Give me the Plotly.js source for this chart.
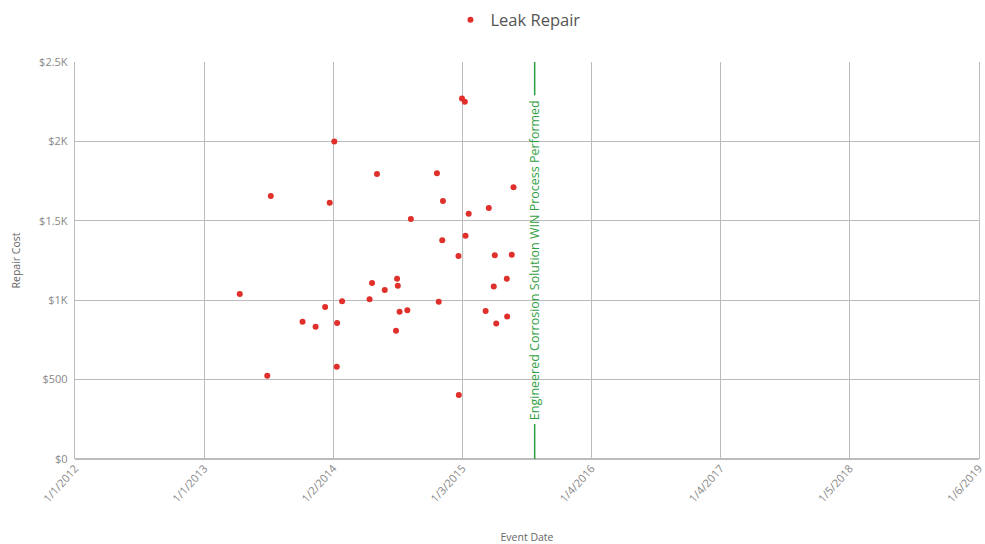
<!DOCTYPE html>
<html>
<head>
<meta charset="utf-8">
<script src="https://cdn.plot.ly/plotly-3.0.1.min.js"></script>
<style>html,body{margin:0;padding:0;background:#fff;}#chart{width:985px;height:544px;}</style>
</head>
<body>
<div id="chart"></div>
<script>
var eventDates = [
  "2015-01-02","2015-01-10","2014-01-05","2014-05-06","2014-10-23","2015-05-28",
  "2013-07-09","2013-12-23","2014-11-09","2015-03-19","2015-01-21","2014-08-10",
  "2014-11-07","2015-01-12","2014-12-23","2015-04-05","2015-05-23","2014-07-02",
  "2015-05-09","2014-04-22","2014-07-04","2015-04-02","2014-05-28","2013-04-12",
  "2014-01-27","2014-04-15","2014-10-28","2013-12-10","2014-07-09","2014-07-31",
  "2015-03-10","2015-05-10","2013-10-07","2013-11-13","2014-01-13","2015-04-09",
  "2014-06-29","2014-01-12","2013-06-29","2014-12-24"
];
var repairCosts = [
  2270,2250,2000,1795,1800,1711,
  1656,1614,1625,1581,1545,1511,
  1377,1406,1278,1283,1286,1135,
  1135,1108,1091,1087,1064,1039,
  993,1006,991,957,928,936,
  932,898,865,833,856,854,
  808,581,525,403
];
var seriesName = "Leak Repair";
var xTickVals = ["2012-01-01","2013-01-01","2014-01-02","2015-01-03","2016-01-04","2017-01-04","2018-01-05","2019-01-06"];
var xTickText = ["1/1/2012","1/1/2013","1/2/2014","1/3/2015","1/4/2016","1/4/2017","1/5/2018","1/6/2019"];
var yTickVals = [0,500,1000,1500,2000,2500];
var yTickText = ["$0","$500","$1K","$1.5K","$2K","$2.5K"];
var eventLineDate = ["2015-07-27"];
var eventLineText = ["Engineered Corrosion Solution WIN Process Performed"];

var green = "#2f9e3f";
var gridCol = "#bcbcbc";
var fontFam = "Open Sans, Noto Sans, sans-serif";

var trace = {
  type: "scatter",
  mode: "markers",
  x: eventDates,
  y: repairCosts,
  name: seriesName,
  marker: {color: "#e0302b", size: 6},
  showlegend: true
};

var layout = {
  width: 985, height: 544,
  margin: {l: 75, r: 6, t: 62, b: 85, autoexpand: false},
  paper_bgcolor: "#fff", plot_bgcolor: "#fff",
  font: {family: fontFam, color: "#777", size: 11},
  showlegend: true,
  legend: {orientation: "h", x: 0.49, xanchor: "center", y: 1.106, yanchor: "middle",
           font: {size: 16.5, color: "#555"}},
  xaxis: {
    type: "date",
    range: ["2012-01-01", "2019-01-06 12:00"],
    tickmode: "array", tickvals: xTickVals, ticktext: xTickText,
    tickangle: -48,
    ticklabeloverflow: "allow",
    tickfont: {size: 11, color: "#888"},
    showgrid: true, gridcolor: gridCol, gridwidth: 1.2,
    showline: false, zeroline: false,
    title: {text: "Event Date", font: {size: 10.5, color: "#666"}, standoff: 30}
  },
  yaxis: {
    range: [0, 2500],
    tickmode: "array", tickvals: yTickVals, ticktext: yTickText,
    tickfont: {size: 11, color: "#888"},
    showgrid: true, gridcolor: gridCol, gridwidth: 1.2,
    zeroline: true, zerolinecolor: gridCol, zerolinewidth: 1.6,
    showline: true, mirror: true, linecolor: gridCol, linewidth: 1.2,
    ticks: "", ticklabelstandoff: 4,
    title: {text: "Repair Cost", font: {size: 10.5, color: "#666"}, standoff: 16}
  },
  shapes: [
    {type: "line", xref: "x", yref: "paper", x0: eventLineDate[0], x1: eventLineDate[0], y0: 0, y1: 0.088,
     line: {color: green, width: 1.5}},
    {type: "line", xref: "x", yref: "paper", x0: eventLineDate[0], x1: eventLineDate[0], y0: 0.916, y1: 1,
     line: {color: green, width: 1.5}}
  ],
  annotations: [
    {xref: "x", yref: "paper", x: eventLineDate[0], y: 0.5, text: eventLineText[0],
     textangle: -90, showarrow: false, xanchor: "center", yanchor: "middle",
     font: {size: 12.5, color: green, family: fontFam}}
  ]
};

Plotly.newPlot("chart", [trace], layout, {displayModeBar: false, staticPlot: true});
</script>
</body>
</html>
